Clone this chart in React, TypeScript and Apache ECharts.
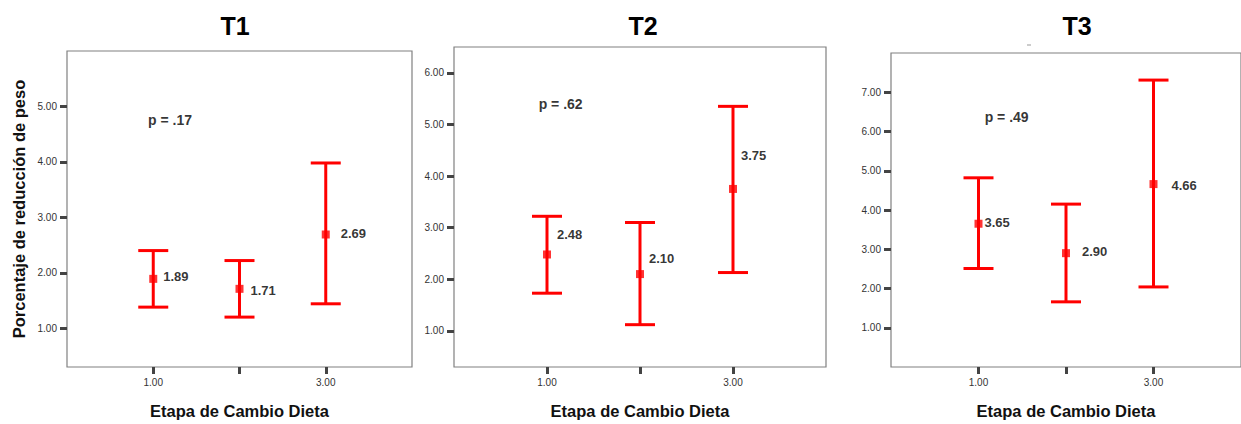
import React, { useEffect, useRef } from "react";
import * as echarts from "echarts";

// ---- data ----
const panelTitles = ["T1", "T2", "T3"];
const groups = [1, 2, 3];
const xTickValues = [1, 2, 3];
const xLabelValues = [1, 3];
const xAxisTitle = "Etapa de Cambio Dieta";
const yAxisTitle = "Porcentaje de reducción de peso";

const meansT1 = [1.89, 1.71, 2.69];
const lowerT1 = [1.38, 1.2, 1.44];
const upperT1 = [2.4, 2.22, 3.98];

const meansT2 = [2.48, 2.1, 3.75];
const lowerT2 = [1.73, 1.12, 2.13];
const upperT2 = [3.22, 3.1, 5.35];

const meansT3 = [3.65, 2.9, 4.66];
const lowerT3 = [2.51, 1.66, 2.04];
const upperT3 = [4.82, 4.15, 7.31];

const yTicksT1 = [1, 2, 3, 4, 5];
const yTicksT2 = [1, 2, 3, 4, 5, 6];
const yTicksT3 = [1, 2, 3, 4, 5, 6, 7];

const pLabels = ["p = .17", "p = .62", "p = .49"];
const pAnchorX = [0.94, 0.91, 1.07];
const pAnchorY = [4.75, 5.4, 6.36];

// ---- layout / style ----
const yRanges = [
  [0.3, 6.0],
  [0.3, 6.5],
  [0, 8],
];
const grids = [
  { left: 67, top: 51, width: 345, height: 319 },
  { left: 454, top: 47, width: 372, height: 322 },
  { left: 891, top: 53, width: 358, height: 318 },
];
const titleCenters = [230, 638, 1072];
const labelOffsets = [
  [[6, -2], [7, 2], [11, -1]],
  [[6, -20], [5, -16], [4, -33]],
  [[2, -1], [12, -2], [14, 1]],
];

const FONT = "'Liberation Sans', Arial, sans-serif";
const RED = "#ff0000";

export default function App() {
  const ref = useRef<HTMLDivElement>(null);

  useEffect(() => {
    if (!ref.current) return;
    const chart = echarts.init(ref.current, null, { renderer: "svg" });

    const means = [meansT1, meansT2, meansT3];
    const lowers = [lowerT1, lowerT2, lowerT3];
    const uppers = [upperT1, upperT2, upperT3];
    const yTicks = [yTicksT1, yTicksT2, yTicksT3];

    const fmt = (v: number) => v.toFixed(2);

    const xAxes = grids.map((_, i) => ({
      type: "value",
      gridIndex: i,
      min: 0,
      max: 4,
      splitLine: { show: false },
      axisLine: { show: false },
      axisTick: {
        show: true,
        customValues: xTickValues,
        length: 7,
        lineStyle: { color: "#444", width: 3 },
      },
      axisLabel: {
        customValues: xLabelValues,
        formatter: fmt,
        margin: 10,
        fontSize: 10,
        color: "#333",
        fontFamily: FONT,
      },
      name: xAxisTitle,
      nameLocation: "middle",
      nameGap: 35,
      nameTextStyle: {
        fontSize: 16.5,
        fontWeight: "bold",
        color: "#111",
        fontFamily: FONT,
      },
    }));

    const yAxes = grids.map((_, i) => ({
      type: "value",
      gridIndex: i,
      min: yRanges[i][0],
      max: yRanges[i][1],
      splitLine: { show: false },
      axisLine: { show: false },
      axisTick: {
        show: true,
        customValues: yTicks[i],
        length: 7,
        lineStyle: { color: "#444", width: 3 },
      },
      axisLabel: {
        customValues: yTicks[i],
        formatter: fmt,
        margin: 10,
        fontSize: 10,
        color: "#333",
        fontFamily: FONT,
      },
      ...(i === 0
        ? {
            name: yAxisTitle,
            nameLocation: "middle",
            nameGap: 40,
            nameTextStyle: {
              fontSize: 16.5,
              fontWeight: "bold",
              color: "#111",
              fontFamily: FONT,
            },
          }
        : {}),
    }));

    const series: any[] = [];
    grids.forEach((_, i) => {
      series.push({
        type: "custom",
        xAxisIndex: i,
        yAxisIndex: i,
        data: groups.map((g, k) => [g, lowers[i][k], uppers[i][k]]),
        renderItem: (params: any, api: any) => {
          const x = api.value(0);
          const lo = api.coord([x, api.value(1)]);
          const hi = api.coord([x, api.value(2)]);
          const hw = 15;
          const style = { stroke: RED, lineWidth: 3, fill: "none" };
          return {
            type: "group",
            children: [
              { type: "line", shape: { x1: lo[0], y1: lo[1], x2: hi[0], y2: hi[1] }, style },
              { type: "line", shape: { x1: hi[0] - hw, y1: hi[1], x2: hi[0] + hw, y2: hi[1] }, style },
              { type: "line", shape: { x1: lo[0] - hw, y1: lo[1], x2: lo[0] + hw, y2: lo[1] }, style },
            ],
          };
        },
        z: 2,
      });
      series.push({
        type: "scatter",
        xAxisIndex: i,
        yAxisIndex: i,
        symbol: "rect",
        symbolSize: 8,
        itemStyle: { color: RED },
        data: groups.map((g, k) => ({
          value: [g, means[i][k]],
          label: {
            show: true,
            position: "right",
            distance: 0,
            offset: labelOffsets[i][k],
            formatter: means[i][k].toFixed(2),
            fontSize: 13,
            fontWeight: "bold",
            color: "#000",
            fontFamily: FONT,
            verticalAlign: "middle",
          },
        })),
        z: 3,
      });
      series.push({
        type: "scatter",
        xAxisIndex: i,
        yAxisIndex: i,
        symbolSize: 0,
        data: [
          {
            value: [pAnchorX[i], pAnchorY[i]],
            label: {
              show: true,
              position: "right",
              distance: 0,
              formatter: pLabels[i],
              fontSize: 14,
              fontWeight: "bold",
              color: "#000",
              fontFamily: FONT,
              align: "left",
              verticalAlign: "middle",
            },
          },
        ],
        silent: true,
      });
    });

    chart.setOption({
      animation: false,
      backgroundColor: "#fff",
      title: panelTitles.map((t, i) => ({
        text: t,
        left: titleCenters[i],
        top: 8,
        textAlign: "center",
        textStyle: {
          fontSize: 25,
          fontWeight: "bold",
          color: "#000",
          fontFamily: FONT,
        },
      })),
      grid: grids.map((g) => ({
        ...g,
        show: true,
        borderColor: "#808080",
        borderWidth: 1.2,
        backgroundColor: "#fff",
        containLabel: false,
      })),
      xAxis: xAxes,
      yAxis: yAxes,
      series,
      graphic: [
        {
          type: "rect",
          shape: { x: 1027, y: 44.5, width: 4, height: 1 },
          style: { fill: "#999" },
        },
      ],
    });

    return () => chart.dispose();
  }, []);

  return (
    <div
      ref={ref}
      style={{ position: "fixed", left: 0, top: 0, width: 1241, height: 424 }}
    />
  );
}
